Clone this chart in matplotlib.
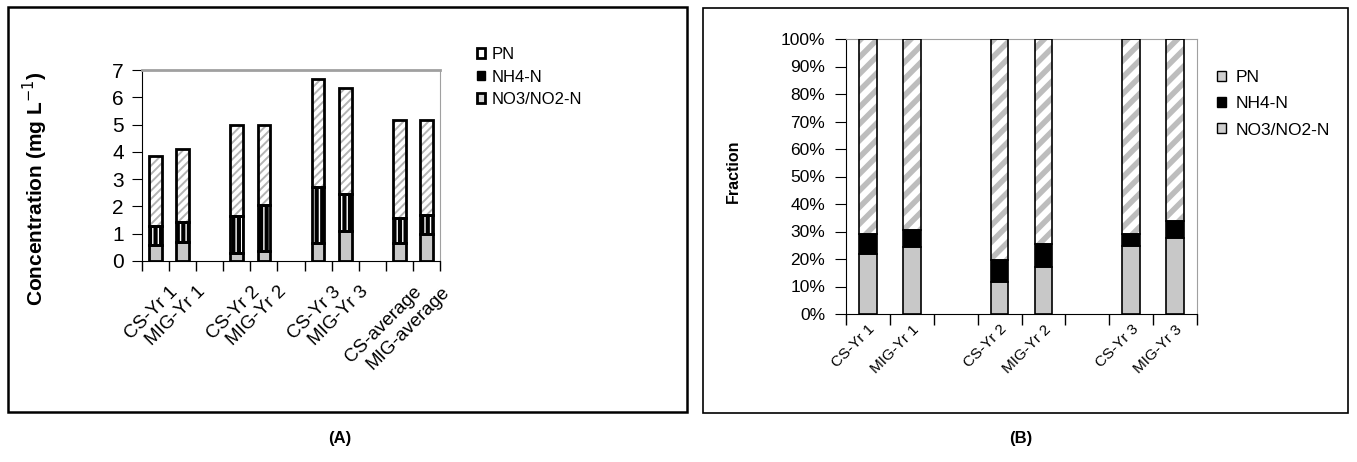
import matplotlib
matplotlib.use("Agg")
import matplotlib.pyplot as plt
from matplotlib.patches import Patch, Rectangle
from matplotlib.transforms import ScaledTranslation
from matplotlib import font_manager
import numpy as np

# Panel A: concentrations (mg/L)
conc_labels = ["CS-Yr 1", "MIG-Yr 1", "", "CS-Yr 2", "MIG-Yr 2", "",
               "CS-Yr 3", "MIG-Yr 3", "", "CS-average", "MIG-average"]
conc_no3 = [0.58, 0.70, 0, 0.30, 0.35, 0, 0.65, 1.10, 0, 0.65, 1.00]
conc_nh4 = [0.69, 0.73, 0, 1.35, 1.72, 0, 2.07, 1.35, 0, 0.94, 0.70]
conc_pn = [2.57, 2.68, 0, 3.32, 2.90, 0, 3.94, 3.90, 0, 3.58, 3.47]

# Panel B: fractions (%)
frac_labels = ["CS-Yr 1", "MIG-Yr 1", "", "CS-Yr 2", "MIG-Yr 2", "",
               "CS-Yr 3", "MIG-Yr 3"]
frac_no3 = [21.7, 24.2, 0, 11.5, 17.0, 0, 24.6, 27.5]
frac_nh4 = [7.3, 6.3, 0, 8.3, 8.6, 0, 4.4, 6.4]
frac_pn = [71.0, 69.5, 0, 80.2, 74.4, 0, 71.0, 66.1]

series_names = ["PN", "NH4-N", "NO3/NO2-N"]

names = {f.name for f in font_manager.fontManager.ttflist}
narrow = "Liberation Sans Narrow" if "Liberation Sans Narrow" in names else "Liberation Sans"
plt.rcParams["font.family"] = ["Liberation Sans", "DejaVu Sans"]

W, H = 1357, 462
fig = plt.figure(figsize=(W / 100, H / 100), dpi=100)


def px_axes(left, top, right, bottom):
    return fig.add_axes([left / W, 1 - bottom / H, (right - left) / W, (bottom - top) / H])


def frame(left, top, right, bottom, lw):
    fig.add_artist(Rectangle((left / W, 1 - bottom / H), (right - left) / W, (bottom - top) / H,
                             transform=fig.transFigure, fill=False, ec="black", lw=lw))


def hatched_bar(ax, x, h, width, bottom, face, hcolor, hatch, hlw, edge_lw):
    with plt.rc_context({"hatch.linewidth": hlw}):
        bars = ax.bar(x, h, width, bottom=bottom, color=face, edgecolor=hcolor,
                      hatch=hatch, linewidth=0, zorder=2)
    for b in bars:
        if hasattr(b, "set_hatch_linewidth"):
            b.set_hatch_linewidth(hlw)
    ax.bar(x, h, width, bottom=bottom, fill=False, edgecolor="black",
           linewidth=edge_lw, zorder=3)


def cat_axis(ax, labels, fs, tick_len, pad, dx):
    n = len(labels)
    ax.set_xlim(-0.5, n - 0.5)
    ax.set_xticks(np.arange(-0.5, n, 1))
    ax.set_xticklabels([])
    ax.set_xticks(np.arange(n), labels, minor=True, rotation=45, ha="right",
                  va="top", rotation_mode="anchor", fontsize=fs)
    ax.tick_params(axis="x", which="major", length=tick_len, direction="out", width=1)
    ax.tick_params(axis="x", which="minor", length=0, pad=pad)
    shift = ScaledTranslation(dx / 100, 0, fig.dpi_scale_trans)
    for t in ax.get_xticklabels(minor=True):
        t.set_transform(t.get_transform() + shift)
    for s in ("top", "right"):
        ax.spines[s].set_color("#a0a0a0")
    for s in ("left", "bottom"):
        ax.spines[s].set_color("black")


# ---- panel A ----
frame(8, 7, 687, 412, 1.8)
axA = px_axes(142, 70, 440, 261)
m = np.array([lab != "" for lab in conc_labels])
xa = np.arange(len(conc_labels))[m]
no3 = np.array(conc_no3)[m]
nh4 = np.array(conc_nh4)[m]
pn = np.array(conc_pn)[m]
wa = 0.47
axA.bar(xa, no3, wa, color="#c8c8c8", edgecolor="black", linewidth=2, zorder=3)
hatched_bar(axA, xa, nh4, wa, no3, "black", "white", "|||", 1.0, 2)
hatched_bar(axA, xa, pn, wa, no3 + nh4, "white", "#b4b4b4", "////", 1.4, 2)
axA.set_ylim(0, 7)
axA.set_yticks(range(8))
axA.tick_params(axis="y", length=7, direction="out", pad=6, labelsize=15)
for t in axA.get_yticklabels():
    t.set_family(narrow)
cat_axis(axA, conc_labels, 13.5, 7, 16, 14)
axA.spines["top"].set_linewidth(2)
axA.set_ylabel("Concentration (mg L$^{-1}$)", fontsize=15, fontweight="bold")
axA.yaxis.set_label_coords(-0.31, 0.38)

legA = [Patch(facecolor="white", edgecolor="black", linewidth=2),
        Patch(facecolor="black", edgecolor="black", linewidth=1),
        Patch(facecolor="#d8d8d8", edgecolor="black", linewidth=2)]
fig.legend(legA, series_names, loc="upper left", bbox_to_anchor=(477 / W, 1 - 47 / H),
           frameon=False, borderpad=0, borderaxespad=0, fontsize=12,
           handlelength=0.5, handleheight=0.5, handletextpad=0.35, labelspacing=0.45)

# ---- panel B ----
frame(703, 8, 1348, 413, 1.2)
axB = px_axes(846, 39, 1197, 314)
mb = np.array([lab != "" for lab in frac_labels])
xb = np.arange(len(frac_labels))[mb]
fno3 = np.array(frac_no3)[mb]
fnh4 = np.array(frac_nh4)[mb]
fpn = np.array(frac_pn)[mb]
wb = 0.4
axB.bar(xb, fno3, wb, color="#c8c8c8", edgecolor="black", linewidth=1.2, zorder=3)
axB.bar(xb, fnh4, wb, bottom=fno3, color="black", edgecolor="black", linewidth=1.2, zorder=3)
hatched_bar(axB, xb, fpn, wb, fno3 + fnh4, "white", "#bdbdbd", "//", 4.0, 1.2)
axB.set_ylim(0, 100)
axB.set_yticks(range(0, 101, 10), [f"{v}%" for v in range(0, 101, 10)])
axB.tick_params(axis="y", length=8, direction="out", pad=7, labelsize=12.5)
cat_axis(axB, frac_labels, 11, 8, 6, 0)
axB.set_ylabel("Fraction", fontsize=11.5, fontweight="bold")
axB.yaxis.set_label_coords((741 - 846) / 351, 0.52)

legB = [Patch(facecolor="#cfcfcf", edgecolor="black", linewidth=1),
        Patch(facecolor="black", edgecolor="black", linewidth=1),
        Patch(facecolor="#cfcfcf", edgecolor="black", linewidth=1)]
fig.legend(legB, series_names, loc="upper left", bbox_to_anchor=(1217 / W, 1 - 70 / H),
           frameon=False, borderpad=0, borderaxespad=0, fontsize=12.5,
           handlelength=0.5, handleheight=0.5, handletextpad=0.6, labelspacing=0.65)

fig.text(340 / W, 1 - 438 / H, "(A)", ha="center", va="center", fontsize=12, fontweight="bold")
fig.text(1021 / W, 1 - 438 / H, "(B)", ha="center", va="center", fontsize=12, fontweight="bold")

fig.savefig("out.png", dpi=100)
